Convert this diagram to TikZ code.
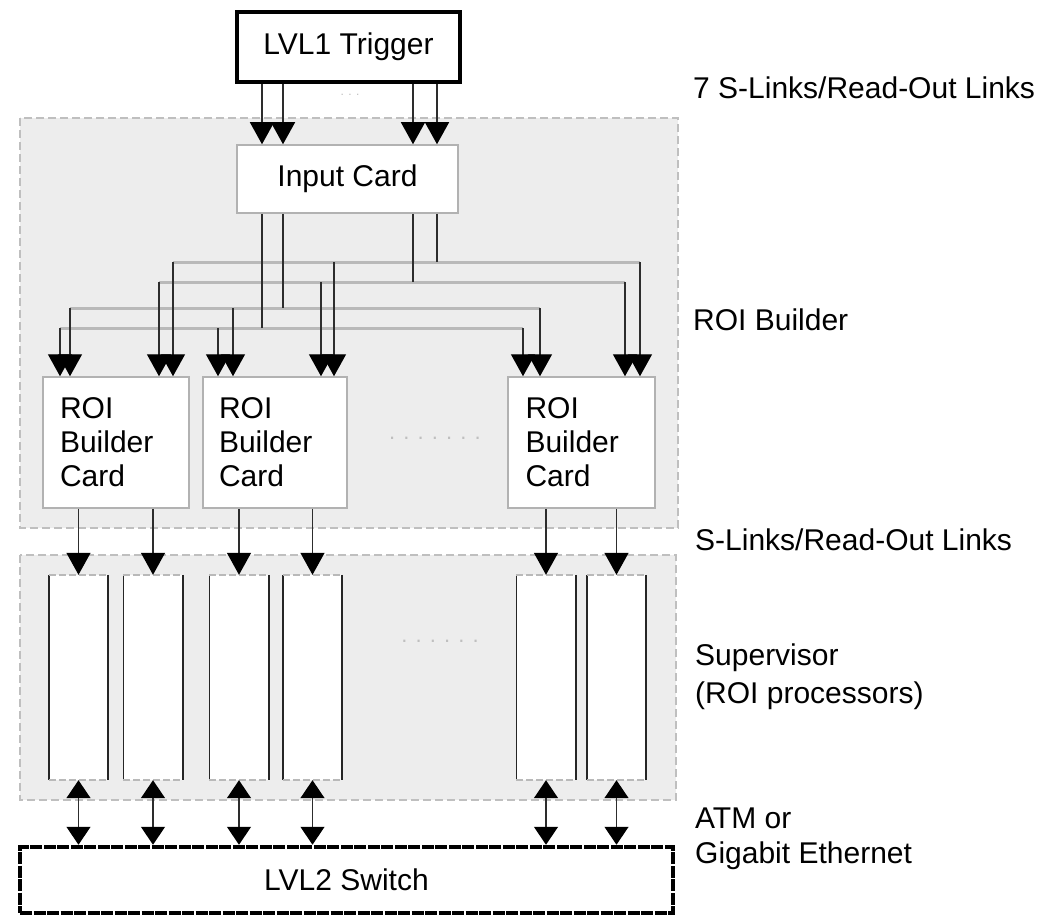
\documentclass[tikz,border=0pt]{standalone}
\usepackage{fontspec}
\setmainfont{Liberation Sans}
\usetikzlibrary{arrows.meta}
\begin{document}
\begin{tikzpicture}[x=1pt,y=-1pt,
  font=\fontsize{30}{35}\selectfont,
  region/.style={draw=gray!50, dash pattern=on 8pt off 4pt, line width=1.2pt, fill=gray!14},
  trig/.style={draw=black, line width=4.5pt, fill=white, minimum width=223pt, minimum height=70pt, inner sep=0pt},
  card/.style={draw=gray!60, line width=1.5pt, fill=white, inner sep=0pt},
  roicard/.style={card, minimum width=146pt, minimum height=131pt, align=left, text width=112pt, font=\fontsize{30}{34}\selectfont},
  sup/.style={fill=white, minimum width=59pt, minimum height=205pt, inner sep=0pt},
  side/.style={draw=gray!30!black, line width=1.6pt},
  lid/.style={draw=gray!55, line width=1.8pt, dash pattern=on 7pt off 3pt},
  bus/.style={draw=gray!55, line width=3pt},
  wire/.style={draw=gray!35!black, line width=1.4pt},
  arr/.style={wire, -{Triangle[width=24pt,length=22pt,black]}},
  biarr/.style={wire, {Triangle[width=24pt,length=18pt,black]}-{Triangle[width=24pt,length=18pt,black]}},
  sw/.style={draw=black, line width=4.5pt, dash pattern=on 12pt off 1.5pt, fill=white, minimum width=653pt, minimum height=66pt, inner sep=0pt},
  lbl/.style={anchor=base west, inner sep=0pt},
  dots/.style={text=gray!50, font=\fontsize{22}{22}\selectfont}
]
\useasboundingbox (0,0) rectangle (1052,915);
\fill[white] (0,0) rectangle (1052,915);

% grey regions
\draw[region] (20,118) rectangle (678,528);
\draw[region] (20,555) rectangle (676,800);

% nodes
\node[trig] (trig) at (348.5,47) {LVL1 Trigger};
\node[card, minimum width=221pt, minimum height=68pt] (ic) at (347.5,179) {Input Card};
\node[roicard] (c1) at (116,442.5) {ROI\\Builder\\Card};
\node[roicard, minimum width=144pt] (c2) at (275,442.5) {ROI\\Builder\\Card};
\node[roicard, minimum width=147pt] (c3) at (581.5,442.5) {ROI\\Builder\\Card};

\node[sup] (s1) at (78.5,677.5) {};
\node[sup] (s2) at (153,677.5) {};
\node[sup] (s3) at (239,677.5) {};
\node[sup] (s4) at (312.5,677.5) {};
\node[sup] (s5) at (546,677.5) {};
\node[sup] (s6) at (616.5,677.5) {};
\foreach \n in {s1,s2,s3,s4,s5,s6}{
  \draw[side] (\n.north west) -- (\n.south west);
  \draw[side] (\n.north east) -- (\n.south east);
  \draw[lid] (\n.north west) -- (\n.north east);
  \draw[lid] (\n.south west) -- (\n.south east);
}

\node[sw] (sw) at (346.5,880) {LVL2 Switch};

% faint dots
\node[dots] (d0) at (350,95) {\fontsize{12}{12}\selectfont . . .};
\node[dots] (d1) at (435,438) {. . . . . . .};
\node[dots] (d2) at (440,641) {. . . . . .};

% LVL1 -> Input Card
\foreach \x in {262,283,413,437}
  \draw[arr] (\x,0 |- trig.south) -- (\x,0 |- ic.north);

% buses
\coordinate (b1) at (437,262);
\coordinate (b2) at (413,282);
\coordinate (b3) at (283,308);
\coordinate (b4) at (262,328);
\draw[bus] (173,262) -- (640,262);
\draw[bus] (159,282) -- (625,282);
\draw[bus] (70,308) -- (540,308);
\draw[bus] (60,328) -- (523,328);
\foreach \b in {b1,b2,b3,b4}
  \draw[wire] (ic.south -| \b) -- (\b);

% drops to ROI builder cards
\foreach \x/\y/\c in {60/328/c1, 70/308/c1, 159/282/c1, 173/262/c1,
                      218/328/c2, 233/308/c2, 321/282/c2, 334/262/c2,
                      523/328/c3, 540/308/c3, 625/282/c3, 640/262/c3}
  \draw[arr] (\x,\y) -- (\x,0 |- \c.north);

% ROI cards -> supervisors
\foreach \s/\c in {s1/c1,s2/c1,s3/c2,s4/c2,s5/c3,s6/c3}
  \draw[arr] (\s.north |- \c.south) -- (\s.north);

% supervisors <-> switch
\foreach \s in {s1,s2,s3,s4,s5,s6}
  \draw[biarr] (\s.south) -- (\s.south |- sw.north);

% right-hand labels
\node[lbl] (l1) at (693,99) {7 S-Links/Read-Out Links};
\node[lbl] (l2) at (693,330) {ROI Builder};
\node[lbl] (l3) at (695,550) {S-Links/Read-Out Links};
\node[lbl] (l4) at (695,665) {Supervisor};
\node[lbl] (l5) at (695,703) {(ROI processors)};
\node[lbl] (l6) at (695,828) {ATM or};
\node[lbl] (l7) at (695,863) {Gigabit Ethernet};
\end{tikzpicture}
\end{document}
